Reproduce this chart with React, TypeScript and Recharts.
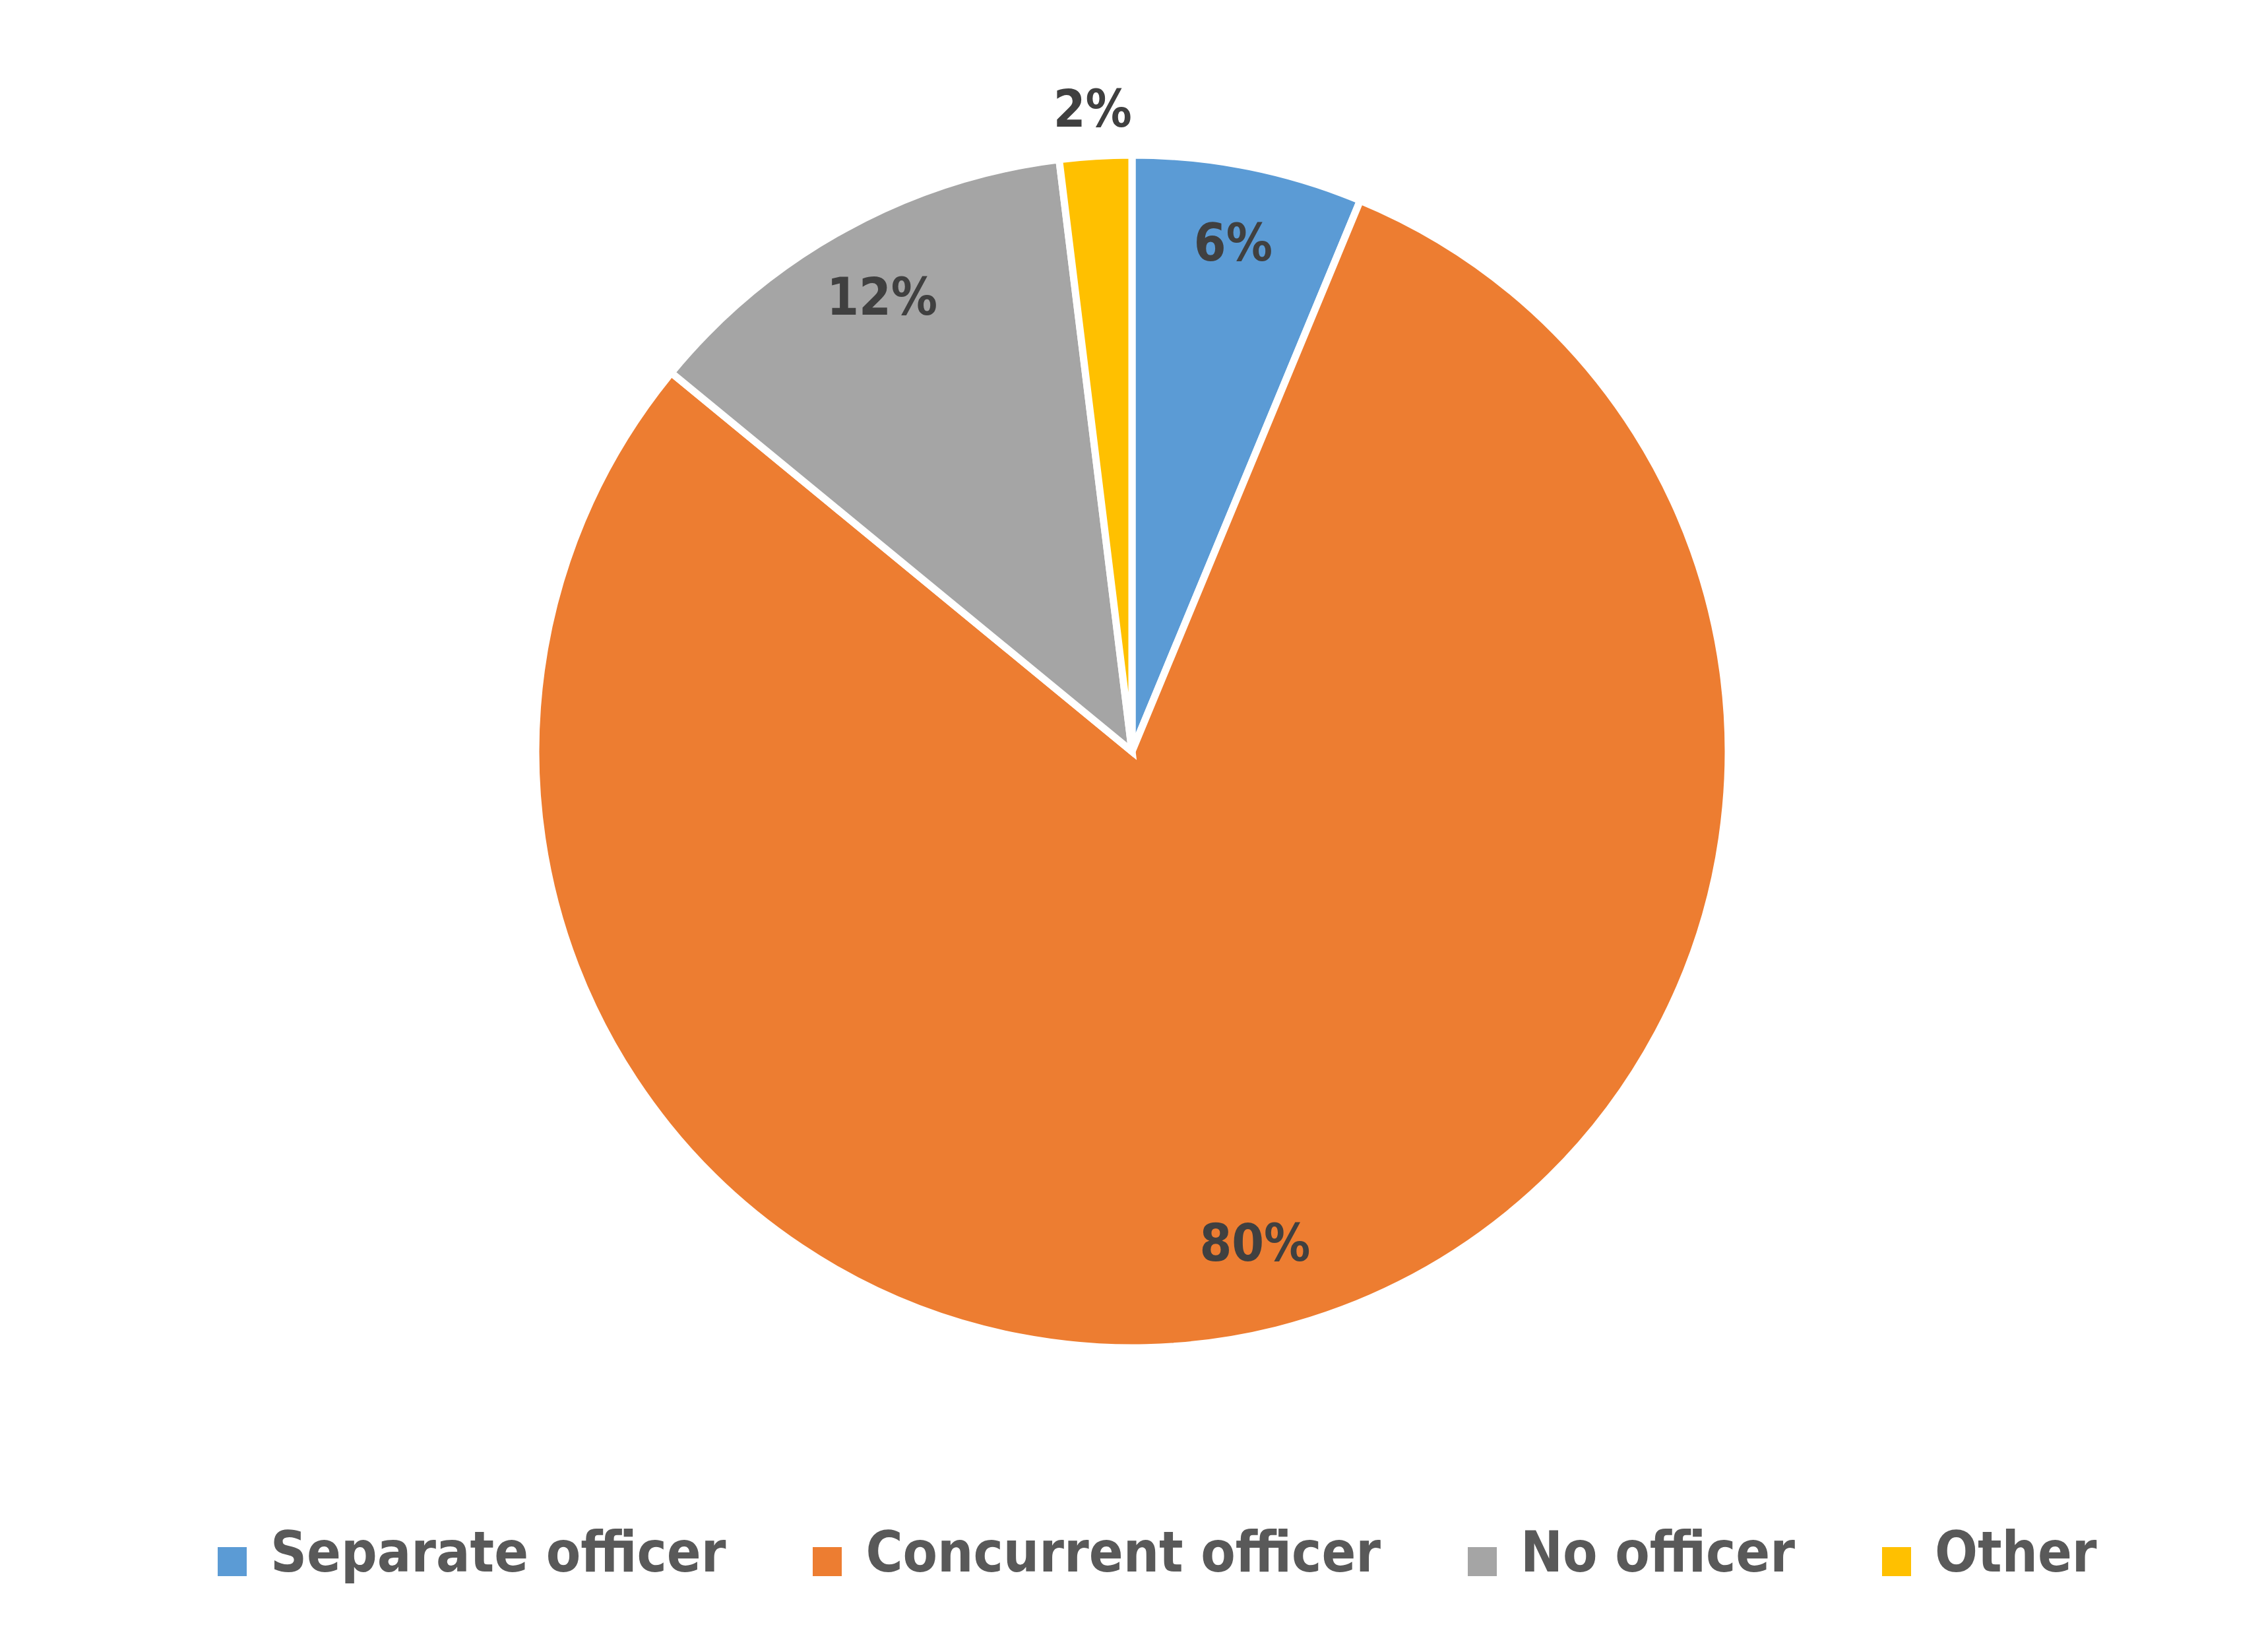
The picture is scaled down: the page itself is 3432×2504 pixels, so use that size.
import { Cell, Legend, Pie, PieChart } from 'recharts';

document.body.style.margin = '0';

const CATEGORIES = ['Separate officer', 'Concurrent officer', 'No officer', 'Other'];
const SHARES = [6.25, 79.7, 12.1, 1.95];
const COLORS = ['#5B9BD5', '#ED7D31', '#A5A5A5', '#FFC000'];

const data = CATEGORIES.map((name, i) => ({ name, value: SHARES[i] }));

const RAD = Math.PI / 180;
const FONT = '"DejaVu Sans Condensed", "DejaVu Sans", sans-serif';

const renderLabel = (props: any) => {
    const { cx, cy, midAngle, outerRadius, percent } = props;
    // small slices get their label pushed outside, like Excel's best fit
    const r = percent < 0.03 ? outerRadius * 1.08 : percent > 0.5 ? outerRadius * 0.85 : outerRadius * 0.87;
    const x = cx + r * Math.cos(-midAngle * RAD);
    const y = cy + r * Math.sin(-midAngle * RAD);
    return (
        <text
            x={x}
            y={y}
            fill="#404040"
            textAnchor="middle"
            dominantBaseline="central"
            fontFamily={FONT}
            fontWeight={700}
            fontSize={78}
        >
            {`${Math.round(percent * 100)}%`}
        </text>
    );
};

const renderLegend = () => (
    <div style={{ display: 'flex', alignItems: 'baseline', gap: 132, fontFamily: FONT, lineHeight: 1 }}>
        {CATEGORIES.map((name, i) => (
            <div key={name} style={{ display: 'flex', alignItems: 'baseline' }}>
                <span
                    style={{
                        display: 'inline-block',
                        width: 44,
                        height: 44,
                        position: 'relative',
                        top: 7,
                        marginRight: 36,
                        background: COLORS[i],
                    }}
                />
                <span style={{ color: '#595959', fontWeight: 700, fontSize: 85 }}>{name}</span>
            </div>
        ))}
    </div>
);

export default function App() {
    return (
        <div style={{ width: 3432, height: 2504, background: '#fff' }}>
            <PieChart width={3432} height={2504}>
                <Pie
                    data={data}
                    dataKey="value"
                    nameKey="name"
                    cx={1711}
                    cy={1134}
                    outerRadius={904}
                    startAngle={90}
                    endAngle={-270}
                    stroke="#ffffff"
                    strokeWidth={11}
                    label={renderLabel}
                    labelLine={false}
                    isAnimationActive={false}
                >
                    {data.map((d, i) => (
                        <Cell key={d.name} fill={COLORS[i]} />
                    ))}
                </Pie>
                <Legend
                    content={renderLegend}
                    wrapperStyle={{ position: 'absolute', left: 330, top: 2310, width: 'auto' }}
                />
            </PieChart>
        </div>
    );
}
